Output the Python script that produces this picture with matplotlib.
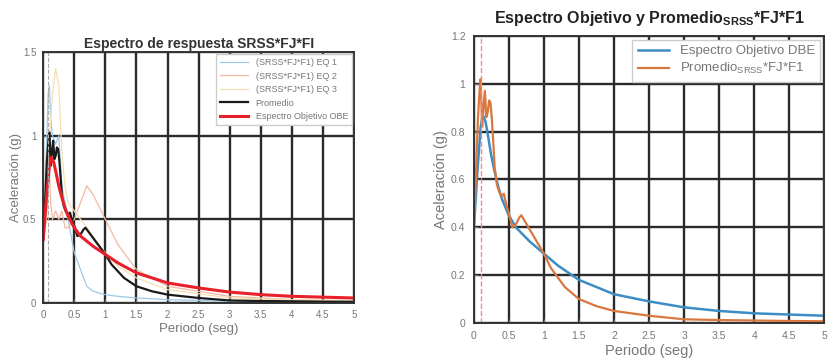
import numpy as np
import matplotlib
matplotlib.use('Agg')
import matplotlib.pyplot as plt

plt.rcParams['font.family'] = ['Liberation Sans', 'DejaVu Sans']
plt.rcParams['mathtext.fontset'] = 'custom'
plt.rcParams['mathtext.rm'] = 'Liberation Sans'
plt.rcParams['mathtext.bf'] = 'Liberation Sans:bold'

# periods / values
T_obj = [0, 0.05, 0.1, 0.13, 0.17, 0.2, 0.25, 0.3, 0.35, 0.4, 0.5, 0.6, 0.7,
         0.8, 1.0, 1.2, 1.5, 2.0, 2.5, 3.0, 3.5, 4.0, 4.5, 5.0]
S_obj = [0.38, 0.62, 0.82, 0.87, 0.84, 0.79, 0.7, 0.63, 0.57, 0.52, 0.45, 0.4,
         0.37, 0.34, 0.29, 0.24, 0.18, 0.12, 0.09, 0.065, 0.05, 0.04, 0.035, 0.03]

T_prom = [0, 0.03, 0.06, 0.09, 0.1, 0.12, 0.14, 0.16, 0.18, 0.2, 0.22, 0.24,
          0.26, 0.28, 0.3, 0.33, 0.36, 0.4, 0.43, 0.46, 0.5, 0.55, 0.6, 0.65,
          0.68, 0.72, 0.8, 0.9, 1.0, 1.1, 1.2, 1.3, 1.5, 1.75, 2.0, 2.5, 3.0,
          3.5, 4.0, 4.5, 5.0]
S_prom = [0.38, 0.6, 0.85, 1.0, 1.02, 0.82, 0.9, 0.97, 0.86, 0.88, 0.93, 0.92,
          0.85, 0.75, 0.65, 0.58, 0.55, 0.53, 0.54, 0.5, 0.46, 0.40, 0.41, 0.44,
          0.45, 0.43, 0.39, 0.34, 0.29, 0.23, 0.19, 0.15, 0.10, 0.07, 0.05, 0.03,
          0.015, 0.012, 0.01, 0.008, 0.007]

T_eq = [0, 0.05, 0.08, 0.1, 0.12, 0.15, 0.2, 0.25, 0.3, 0.35, 0.4, 0.5, 0.6,
        0.7, 0.8, 1.0, 1.2, 1.5, 2.0, 3.0, 4.0, 5.0]
S_eq1 = [0.35, 0.9, 1.25, 1.3, 1.1, 1.0, 0.95, 1.0, 0.7, 0.6, 0.5, 0.3, 0.2,
         0.1, 0.07, 0.05, 0.04, 0.03, 0.02, 0.01, 0.01, 0.005]
S_eq2 = [0.35, 0.5, 0.7, 0.8, 0.6, 0.5, 0.55, 0.5, 0.55, 0.45, 0.45, 0.5, 0.6,
         0.7, 0.65, 0.5, 0.35, 0.2, 0.1, 0.04, 0.02, 0.01]
S_eq3 = [0.35, 0.6, 0.8, 1.0, 1.1, 1.25, 1.4, 1.3, 0.9, 0.7, 0.6, 0.55, 0.5,
         0.45, 0.4, 0.3, 0.22, 0.15, 0.08, 0.03, 0.02, 0.015]

x_ticks = [0, 0.5, 1, 1.5, 2, 2.5, 3, 3.5, 4, 4.5, 5]
x_ticklabels = ['0', '0.5', '1', '1.5', '2', '2.5', '3', '3.5', '4', '4.5', '5']

GRAY = '#777777'

def style_axes(ax, yticks, ylabels, fs, pad):
    ax.set_xlim(0, 5)
    ax.set_xticks(x_ticks)
    ax.set_xticklabels(x_ticklabels)
    ax.set_yticks(yticks)
    ax.set_yticklabels(ylabels)
    ax.grid(True, color='#2a2a2a', lw=1.7)
    ax.set_axisbelow(True)
    ax.tick_params(labelsize=fs, colors=GRAY, length=3, direction='in', pad=pad)
    for s in ax.spines.values():
        s.set_color('#333333')
        s.set_linewidth(1.4)

fig = plt.figure(figsize=(8.31, 3.62), dpi=100)

# ---- left panel
ax1 = fig.add_axes([0.052, 0.163, 0.374, 0.693])
ax1.plot(T_eq, S_eq1, color='#9cc9e6', lw=0.9, label="(SRSS*FJ*F1) EQ 1")
ax1.plot(T_eq, S_eq2, color='#f2b8a0', lw=0.9, label="(SRSS*FJ*F1) EQ 2")
ax1.plot(T_eq, S_eq3, color='#f6deb0', lw=0.9, label="(SRSS*FJ*F1) EQ 3")
ax1.plot(T_prom, S_prom, color='#1a1a1a', lw=1.6, label='Promedio')
ax1.plot(T_obj, S_obj, color='#e8202a', lw=2.2, label='Espectro Objetivo OBE')
ax1.axvline(0.08, color='#aaaaaa', lw=0.8, ls='--')
ax1.set_ylim(0, 1.5)
style_axes(ax1, [0, 0.5, 1, 1.5], ['0', '0.5', '1', '1.5'], 7, 5)
ax1.set_title('Espectro de respuesta SRSS*FJ*FI', fontsize=10, fontweight='bold',
              color='#333333', pad=3)
ax1.set_xlabel('Periodo (seg)', fontsize=9.5, color=GRAY, labelpad=2)
ax1.set_ylabel('Aceleración (g)', fontsize=9.5, color=GRAY, labelpad=1)
ax1.legend(loc='upper right', fontsize=6.5, frameon=True, fancybox=False,
           edgecolor='#cccccc', labelcolor=GRAY, handlelength=3.2,
           borderaxespad=0.25, labelspacing=0.5, framealpha=1)

# ---- right panel
ax2 = fig.add_axes([0.570, 0.108, 0.422, 0.793])
ax2.plot(T_obj, S_obj, color='#3c8dc4', lw=1.8, label='Espectro Objetivo DBE')
ax2.plot(T_prom, S_prom, color='#d9773e', lw=1.6,
         label=r'Promedio$_{\mathrm{SRSS}}$*FJ*F1')
ax2.axvline(0.1, color='#f08a9a', lw=1.0, ls='--')
ax2.set_ylim(0, 1.2)
style_axes(ax2, [0, 0.2, 0.4, 0.6, 0.8, 1, 1.2],
           ['0', '0.2', '0.4', '0.6', '0.8', '1', '1.2'], 7.5, 6)
ax2.set_title(r'Espectro Objetivo y Promedio$_{\mathbf{SRSS}}$*FJ*F1', fontsize=11.5,
              fontweight='bold', color='#222222', pad=9)
ax2.set_xlabel('Periodo (seg)', fontsize=10.5, color=GRAY, labelpad=2)
ax2.set_ylabel('Aceleración (g)', fontsize=10.5, color=GRAY, labelpad=2)
ax2.legend(loc='upper right', fontsize=9.5, frameon=True, fancybox=False,
           edgecolor='#cccccc', labelcolor=GRAY, handlelength=2.4,
           borderaxespad=0.3, labelspacing=0.3, framealpha=1)

fig.savefig('out.png', dpi=100)
